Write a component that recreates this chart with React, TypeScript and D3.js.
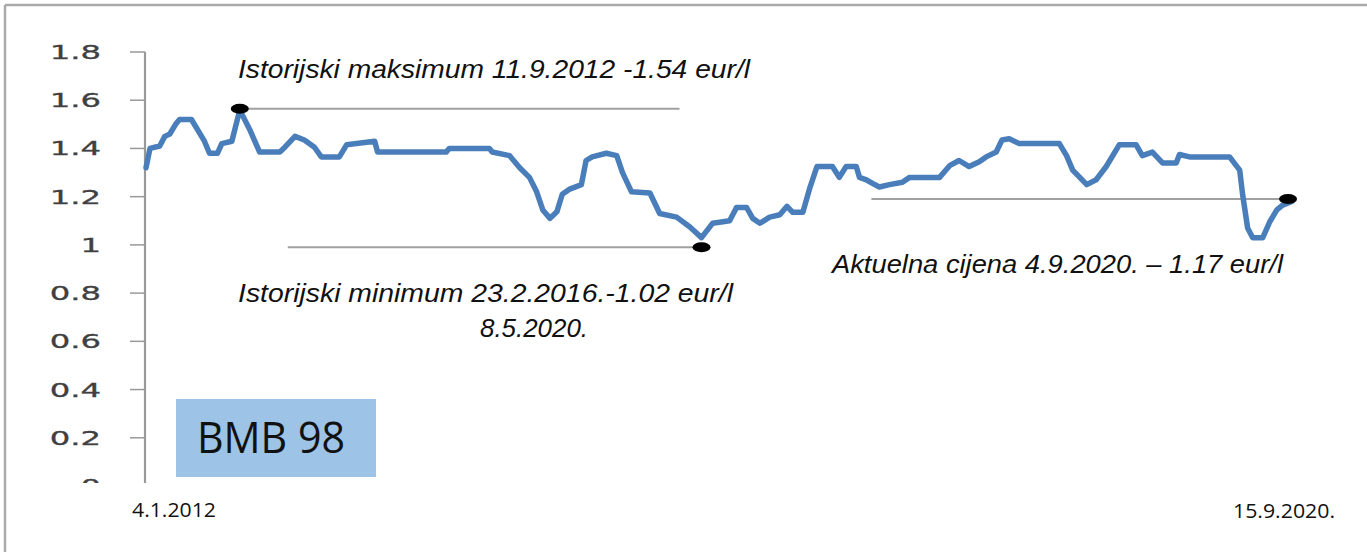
import React from 'react';
import * as d3 from 'd3';

// BMB 98 price, eur/l
const dates = [
  '2012-01-04', '2012-01-15', '2012-02-11', '2012-02-25', '2012-03-10', '2012-03-26',
  '2012-04-06', '2012-05-09',
  '2012-06-14', '2012-06-28', '2012-07-20', '2012-08-01', '2012-08-29', '2012-09-20',
  '2012-10-17', '2012-11-14', '2013-01-09', '2013-01-23', '2013-02-20', '2013-03-18',
  '2013-04-15', '2013-05-04', '2013-06-23', '2013-07-13', '2013-09-29', '2013-10-07',
  '2014-04-15', '2014-04-24', '2014-08-13', '2014-08-21', '2014-10-08', '2014-11-05',
  '2014-12-02', '2014-12-22', '2015-01-08', '2015-01-28', '2015-02-16', '2015-03-03',
  '2015-03-22', '2015-04-25', '2015-05-08', '2015-05-25', '2015-07-03', '2015-08-01',
  '2015-08-17', '2015-09-11', '2015-11-01', '2015-11-28', '2016-01-14', '2016-02-19',
  '2016-03-23', '2016-04-23', '2016-06-09', '2016-06-28', '2016-07-26', '2016-08-12',
  '2016-09-01', '2016-09-28', '2016-10-26', '2016-11-15', '2016-12-01', '2016-12-29',
  '2017-01-18', '2017-02-06', '2017-03-21', '2017-04-09', '2017-04-28', '2017-05-26',
  '2017-06-04', '2017-06-23', '2017-07-10', '2017-07-29', '2017-08-26', '2017-10-01',
  '2017-10-21', '2018-01-12', '2018-02-10', '2018-03-07', '2018-04-04', '2018-05-02',
  '2018-05-21', '2018-06-18', '2018-07-04', '2018-07-24', '2018-08-21', '2018-12-10',
  '2018-12-30', '2019-01-16', '2019-02-24', '2019-03-22', '2019-04-19', '2019-05-25',
  '2019-07-11', '2019-07-28', '2019-08-25', '2019-09-22', '2019-10-30', '2019-11-08',
  '2019-12-06', '2020-03-26', '2020-04-23', '2020-05-01', '2020-05-15', '2020-05-29',
  '2020-06-26', '2020-07-15', '2020-08-04', '2020-08-20', '2020-09-15',
];
const prices = [
  1.32, 1.4, 1.41, 1.45, 1.46, 1.5,
  1.52, 1.52,
  1.43, 1.38, 1.38, 1.42, 1.43, 1.56,
  1.48, 1.385, 1.385, 1.405, 1.45, 1.435,
  1.405, 1.365, 1.365, 1.415, 1.43, 1.385,
  1.385, 1.4, 1.4, 1.385, 1.37, 1.32,
  1.28, 1.22, 1.145, 1.11, 1.137, 1.21,
  1.23, 1.25, 1.35, 1.365, 1.38, 1.37,
  1.3, 1.22, 1.215, 1.13, 1.115, 1.075,
  1.03, 1.09, 1.1, 1.155, 1.155, 1.11,
  1.09, 1.115, 1.125, 1.16, 1.135, 1.135,
  1.24, 1.325, 1.325, 1.28, 1.325, 1.325,
  1.28, 1.27, 1.255, 1.24, 1.25, 1.26,
  1.28, 1.28, 1.33, 1.35, 1.325, 1.345,
  1.365, 1.385, 1.435, 1.44, 1.42, 1.42,
  1.37, 1.31, 1.25, 1.27, 1.325, 1.415,
  1.415, 1.37, 1.385, 1.34, 1.34, 1.375,
  1.365, 1.365, 1.31, 1.21, 1.07, 1.03,
  1.03, 1.095, 1.145, 1.165, 1.18,
];

const yTicks = [0, 0.2, 0.4, 0.6, 0.8, 1, 1.2, 1.4, 1.6, 1.8];
const startLabel = '4.1.2012';
const endLabel = '15.9.2020.';

// marker dots and their guide lines: [dot date, dot value, line from]
const markDates = ['2012-09-20', '2016-03-23', '2020-09-04'];
const markValues = [1.565, 0.99, 1.19];
const guideEnds = ['2016-01-22', '2013-01-31', '2017-07-07'];

const parse = d3.timeParse('%Y-%m-%d');

const App = () => {
  const width = 1367;
  const height = 552;

  const x = d3.scaleTime()
    .domain([parse('2012-01-04'), parse('2020-09-15')])
    .range([146, 1292]);
  const y = d3.scaleLinear().domain([0, 1.8]).range([486, 52]);

  const series = dates.map((d, i) => ({ date: parse(d), value: prices[i] }));
  const line = d3.line<any>()
    .x(d => x(d.date))
    .y(d => y(d.value));

  const italic = { fontFamily: '"Liberation Sans", Arial, sans-serif', fontStyle: 'italic', fontSize: 25, fill: '#111' };
  const calibri = { fontFamily: '"Open Sans", "Noto Sans", sans-serif', fill: '#111' };

  return (
    <div style={{ position: 'absolute', left: 0, top: 0 }}>
      <svg width={width} height={height} style={{ display: 'block', background: '#fff' }}>
        <defs>
          <clipPath id="cut">
            <rect x={0} y={0} width={width} height={483} />
          </clipPath>
        </defs>

        {/* frame */}
        <line x1={5} y1={5} x2={width} y2={5} stroke="#aaa" strokeWidth={2.5} />
        <line x1={5} y1={5} x2={5} y2={height} stroke="#aaa" strokeWidth={2.5} />

        <g clipPath="url(#cut)">
          <line x1={145} x2={145} y1={y(1.8)} y2={y(0)} stroke="#999" strokeWidth={2.2} />
          {yTicks.map(t => (
            <g key={t}>
              <line x1={130} x2={145} y1={y(t)} y2={y(t)} stroke="#999" strokeWidth={1.5} />
              <text
                transform={`translate(101, ${y(t) + 7}) scale(1.7, 1)`}
                textAnchor="end"
                style={{ fontFamily: '"DejaVu Sans", Verdana, sans-serif', fontSize: 19, fill: '#404040', stroke: '#404040', strokeWidth: 0.3 }}
              >
                {String(t)}
              </text>
            </g>
          ))}
        </g>

        {/* guide lines */}
        {markDates.map((d, i) => (
          <line
            key={'g' + i}
            x1={x(parse(guideEnds[i]))}
            x2={x(parse(d))}
            y1={y(markValues[i])}
            y2={y(markValues[i])}
            stroke="#a0a0a0"
            strokeWidth={2}
          />
        ))}

        <path d={line(series) || ''} fill="none" stroke="#4a7ebb" strokeWidth={5.5} strokeLinejoin="round" strokeLinecap="round" />

        {markDates.map((d, i) => (
          <ellipse key={'m' + i} cx={x(parse(d))} cy={y(markValues[i])} rx={9} ry={5} fill="#000" />
        ))}

        <text x={238} y={78} textLength={512} lengthAdjust="spacingAndGlyphs" style={italic}>
          Istorijski  maksimum  11.9.2012 -1.54 eur/l
        </text>
        <text x={238} y={302} textLength={495} lengthAdjust="spacingAndGlyphs" style={italic}>
          Istorijski minimum 23.2.2016.-1.02 eur/l
        </text>
        <text x={480} y={337} textLength={108} lengthAdjust="spacingAndGlyphs" style={italic}>
          8.5.2020.
        </text>
        <text x={832} y={273} textLength={451} lengthAdjust="spacingAndGlyphs" style={italic}>
          Aktuelna cijena 4.9.2020. – 1.17 eur/l
        </text>

        <rect x={176} y={399} width={200} height={78} fill="#9dc3e6" />
        <text x={197} y={453} textLength={148} lengthAdjust="spacingAndGlyphs" style={{ ...calibri, fontSize: 43 }}>
          BMB 98
        </text>

        <text x={132} y={517} textLength={84} lengthAdjust="spacingAndGlyphs" style={{ ...calibri, fontSize: 20 }}>
          {startLabel}
        </text>
        <text x={1233} y={518} textLength={102} lengthAdjust="spacingAndGlyphs" style={{ ...calibri, fontSize: 20 }}>
          {endLabel}
        </text>
      </svg>
    </div>
  );
};

export default App;
